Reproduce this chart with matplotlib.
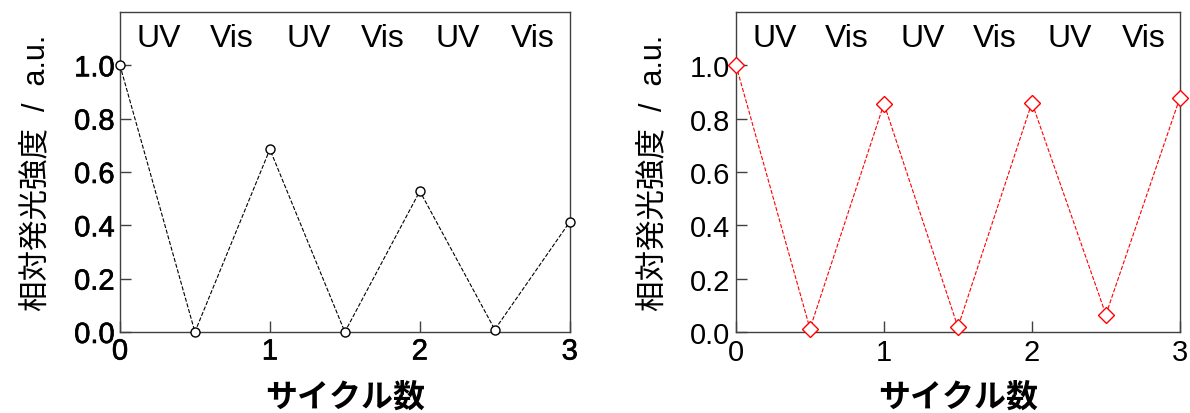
import matplotlib
matplotlib.use("Agg")
import matplotlib.pyplot as plt
import matplotlib.patheffects as pe

plt.rcParams['font.family'] = ['Liberation Sans', 'Noto Sans CJK JP', 'DejaVu Sans']

# Data
cycles = [0, 0.5, 1, 1.5, 2, 2.5, 3]
left_vals = [1.0, 0.0, 0.685, 0.0, 0.528, 0.009, 0.413]
right_vals = [1.0, 0.012, 0.856, 0.018, 0.86, 0.065, 0.878]
light_labels = ['UV', 'Vis', 'UV', 'Vis', 'UV', 'Vis']
light_pos = [0.26, 0.745, 1.26, 1.75, 2.255, 2.755]
xticks = [0, 1, 2, 3]
yticks = [0.0, 0.2, 0.4, 0.6, 0.8, 1.0]

fig = plt.figure(figsize=(11.9, 4.14), dpi=100)
ax1 = fig.add_axes([0.1008, 0.1957, 0.378, 0.773])
ax2 = fig.add_axes([0.6185, 0.1957, 0.373, 0.773])

spine_col = '#404040'


def style(ax, heavy):
    ax.set_xlim(0, 3)
    ax.set_ylim(0, 1.2)
    ax.set_xticks(xticks)
    ax.set_yticks(yticks)
    ax.set_xticklabels([str(t) for t in xticks])
    ax.set_yticklabels(['%.1f' % t for t in yticks])
    ax.tick_params(direction='in', length=8, width=1, color=spine_col,
                   labelsize=21, pad=4, top=False, right=False)
    if heavy:
        # left panel numbers look a bit heavier than regular
        for lab in ax.get_xticklabels() + ax.get_yticklabels():
            lab.set_path_effects([pe.withStroke(linewidth=0.45, foreground='black')])
    for s in ax.spines.values():
        s.set_linewidth(1)
        s.set_color(spine_col)
    for p, t in zip(light_pos, light_labels):
        ax.text(p, 1.103, t, ha='center', va='center', fontsize=23)
    ax.set_ylabel('相対発光強度  /  a.u.', fontsize=22, labelpad=16)
    ax.set_xlabel('サイクル数', fontsize=23, fontweight='bold', labelpad=12)


ax1.plot(cycles, left_vals, ls='--', lw=0.8, color='black', marker='o',
         ms=6.5, mfc='white', mec='black', mew=1, clip_on=False, zorder=3)
ax2.plot(cycles, right_vals, ls='--', lw=0.8, color='red', marker='D',
         ms=8, mfc='white', mec='red', mew=1, clip_on=False, zorder=3)

style(ax1, True)
style(ax2, False)

fig.savefig('out.png', dpi=100)
